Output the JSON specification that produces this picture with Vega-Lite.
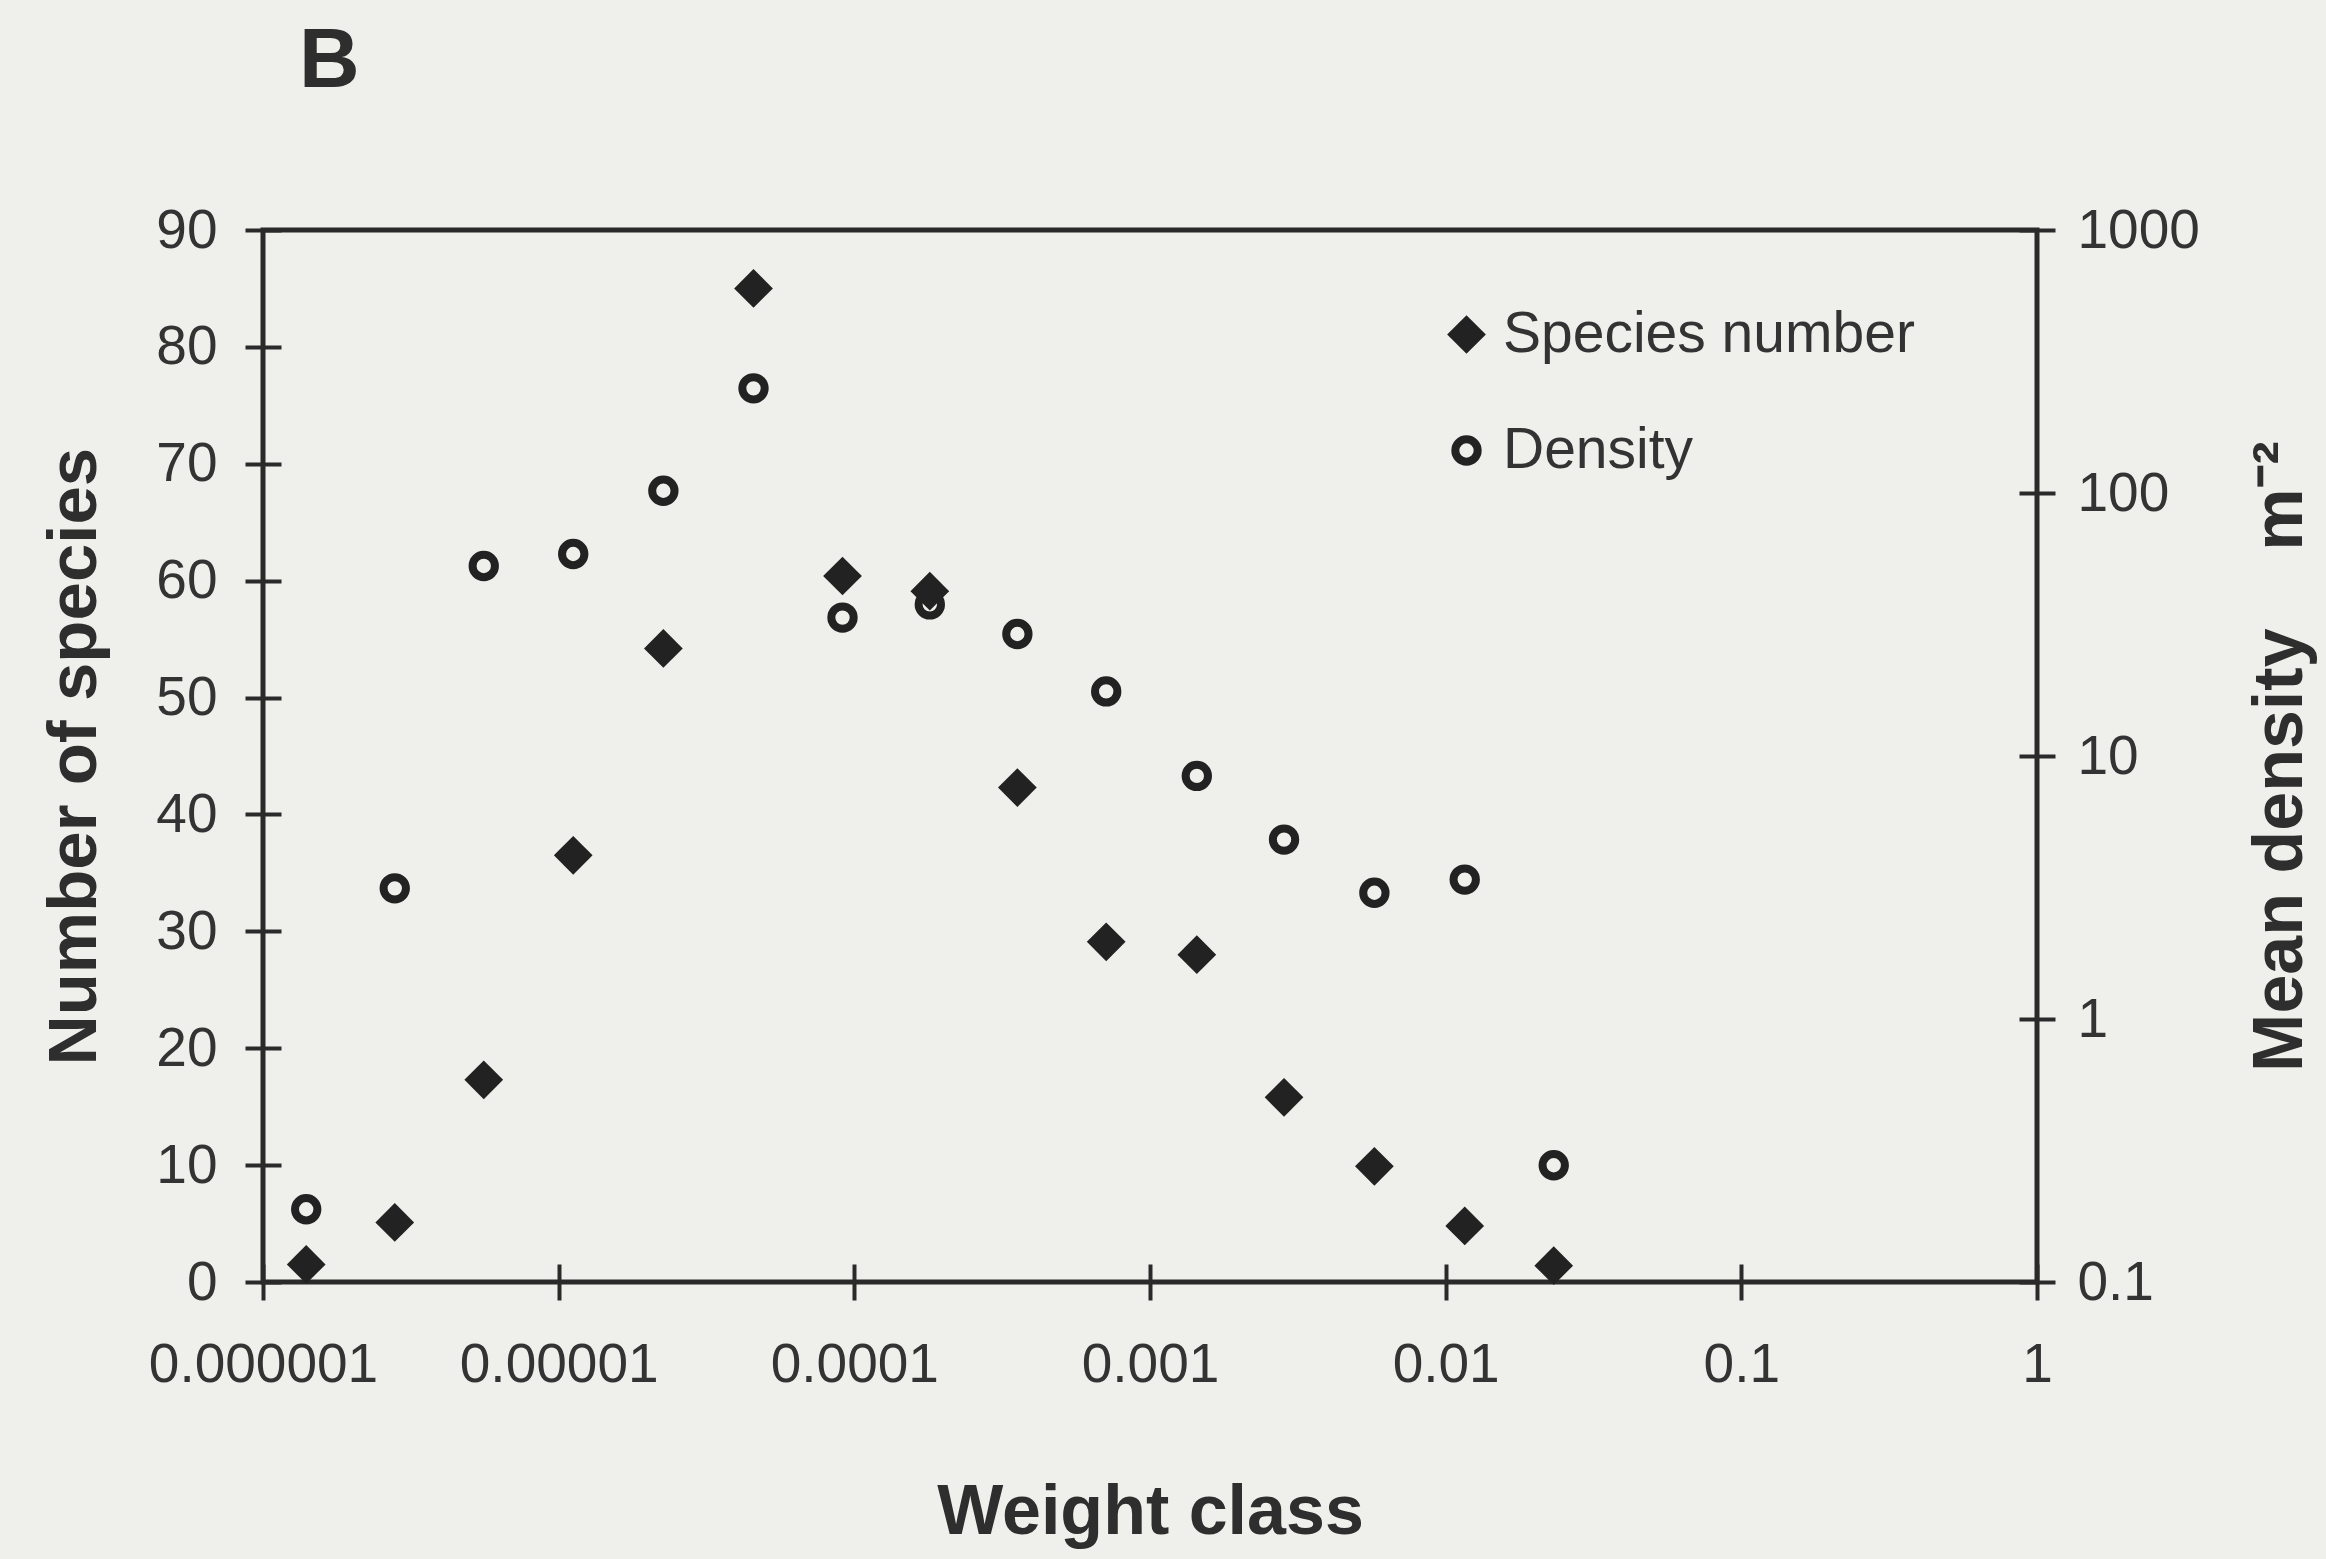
{
  "$schema": "https://vega.github.io/schema/vega-lite/v6.json",
  "width": 1774,
  "height": 1052,
  "autosize": {"type": "none"},
  "padding": {"left": 263, "top": 230, "right": 289, "bottom": 277},
  "background": "#efefeb",
  "config": {
    "font": "Liberation Sans",
    "view": {"stroke": "#2a2a2a", "strokeWidth": 5},
    "axis": {"grid": false, "domain": false, "tickColor": "#2a2a2a", "tickWidth": 4, "labelColor": "#333333", "titleColor": "#2e2e2e", "labelFont": "Liberation Sans", "titleFont": "Liberation Sans", "labelLimit": 500}
  },
  "title": {"text": "B", "anchor": "start", "frame": "group", "fontSize": 84, "fontWeight": "bold", "color": "#2e2e2e", "dx": 36, "baseline": "alphabetic", "offset": 32},
  "data": {
    "values": [
      {"w": 1.40e-6, "species": 1.5, "density": 0.189},
      {"w": 2.79e-6, "species": 5.1, "density": 3.14},
      {"w": 5.58e-6, "species": 17.3, "density": 52.8},
      {"w": 1.12e-5, "species": 36.5, "density": 58.6},
      {"w": 2.26e-5, "species": 54.2, "density": 102},
      {"w": 4.56e-5, "species": 85.0, "density": 250},
      {"w": 9.12e-5, "species": 60.4, "density": 33.6},
      {"w": 1.80e-4, "species": 59.1, "density": 37.7},
      {"w": 3.56e-4, "species": 42.3, "density": 29.1},
      {"w": 7.11e-4, "species": 29.1, "density": 17.6},
      {"w": 1.44e-3, "species": 28.0, "density": 8.4},
      {"w": 2.84e-3, "species": 15.8, "density": 4.81},
      {"w": 5.74e-3, "species": 9.9, "density": 3.02},
      {"w": 1.16e-2, "species": 4.8, "density": 3.39},
      {"w": 2.32e-2, "species": 1.4, "density": 0.278}
    ]
  },
  "layer": [
    {
      "mark": {"type": "point", "filled": true, "stroke": "#222222", "opacity": 1},
      "encoding": {
        "x": {
          "field": "w", "type": "quantitative",
          "scale": {"type": "log", "domain": [0.000001, 1]},
          "axis": {
            "values": [0.000001, 0.00001, 0.0001, 0.001, 0.01, 0.1, 1],
            "format": ".6~f", "offset": -18, "tickSize": 36, "labelPadding": 38,
            "labelFontSize": 55, "labelFlush": false, "labelOverlap": false, "labelLimit": 500,
            "title": "Weight class", "titleFontSize": 70, "titleFontWeight": "bold", "titlePadding": 86
          }
        },
        "y": {
          "field": "species", "type": "quantitative",
          "scale": {"domain": [0, 90]},
          "axis": {
            "orient": "left", "values": [0, 10, 20, 30, 40, 50, 60, 70, 80, 90],
            "offset": -18, "tickSize": 36, "labelPadding": 28, "labelFontSize": 55,
            "labelFlush": false, "labelOverlap": false,
            "title": "Number of species", "titleFontSize": 69, "titleFontWeight": "bold", "titlePadding": 46
          }
        },
        "shape": {
          "datum": "Species number", "type": "nominal",
          "scale": {"domain": ["Species number", "Density"], "range": ["diamond", "circle"]},
          "legend": {
            "title": null, "orient": "none", "legendX": 1175, "legendY": 76,
            "padding": 0, "rowPadding": 58, "labelFontSize": 57, "labelColor": "#333333",
            "labelOffset": 8, "labelLimit": 800
          }
        },
        "fill": {
          "datum": "Species number", "type": "nominal",
          "scale": {"domain": ["Species number", "Density"], "range": ["#222222", "transparent"]},
          "legend": {
            "title": null, "orient": "none", "legendX": 1175, "legendY": 76,
            "padding": 0, "rowPadding": 58, "labelFontSize": 57, "labelColor": "#333333",
            "labelOffset": 8, "labelLimit": 800
          }
        },
        "size": {
          "datum": "Species number", "type": "nominal",
          "scale": {"domain": ["Species number", "Density"], "range": [1500, 500]},
          "legend": {
            "title": null, "orient": "none", "legendX": 1175, "legendY": 76,
            "padding": 0, "rowPadding": 58, "labelFontSize": 57, "labelColor": "#333333",
            "labelOffset": 8, "labelLimit": 800
          }
        },
        "strokeWidth": {
          "datum": "Species number", "type": "nominal",
          "scale": {"domain": ["Species number", "Density"], "range": [0, 8]},
          "legend": {
            "title": null, "orient": "none", "legendX": 1175, "legendY": 76,
            "padding": 0, "rowPadding": 58, "labelFontSize": 57, "labelColor": "#333333",
            "labelOffset": 8, "labelLimit": 800
          }
        }
      }
    },
    {
      "mark": {"type": "point", "filled": false, "stroke": "#222222", "opacity": 1},
      "encoding": {
        "x": {"field": "w", "type": "quantitative"},
        "y": {
          "field": "density", "type": "quantitative",
          "scale": {"type": "log", "domain": [0.1, 1000]},
          "axis": {
            "orient": "right", "values": [0.1, 1, 10, 100, 1000], "format": "~g",
            "offset": -18, "tickSize": 36, "labelPadding": 22, "labelFontSize": 55,
            "labelFlush": false, "labelOverlap": false,
            "title": "Mean density\u00a0\u00a0\u00a0\u00a0m\u207b\u00b2", "titleFontSize": 70, "titleFontWeight": "bold",
            "titleAngle": 270, "titleBaseline": "top", "titlePadding": 47
          }
        },
        "shape": {"datum": "Density", "type": "nominal"},
        "fill": {"datum": "Density", "type": "nominal"},
        "size": {"datum": "Density", "type": "nominal"},
        "strokeWidth": {"datum": "Density", "type": "nominal"}
      }
    }
  ],
  "resolve": {"scale": {"y": "independent"}}
}
